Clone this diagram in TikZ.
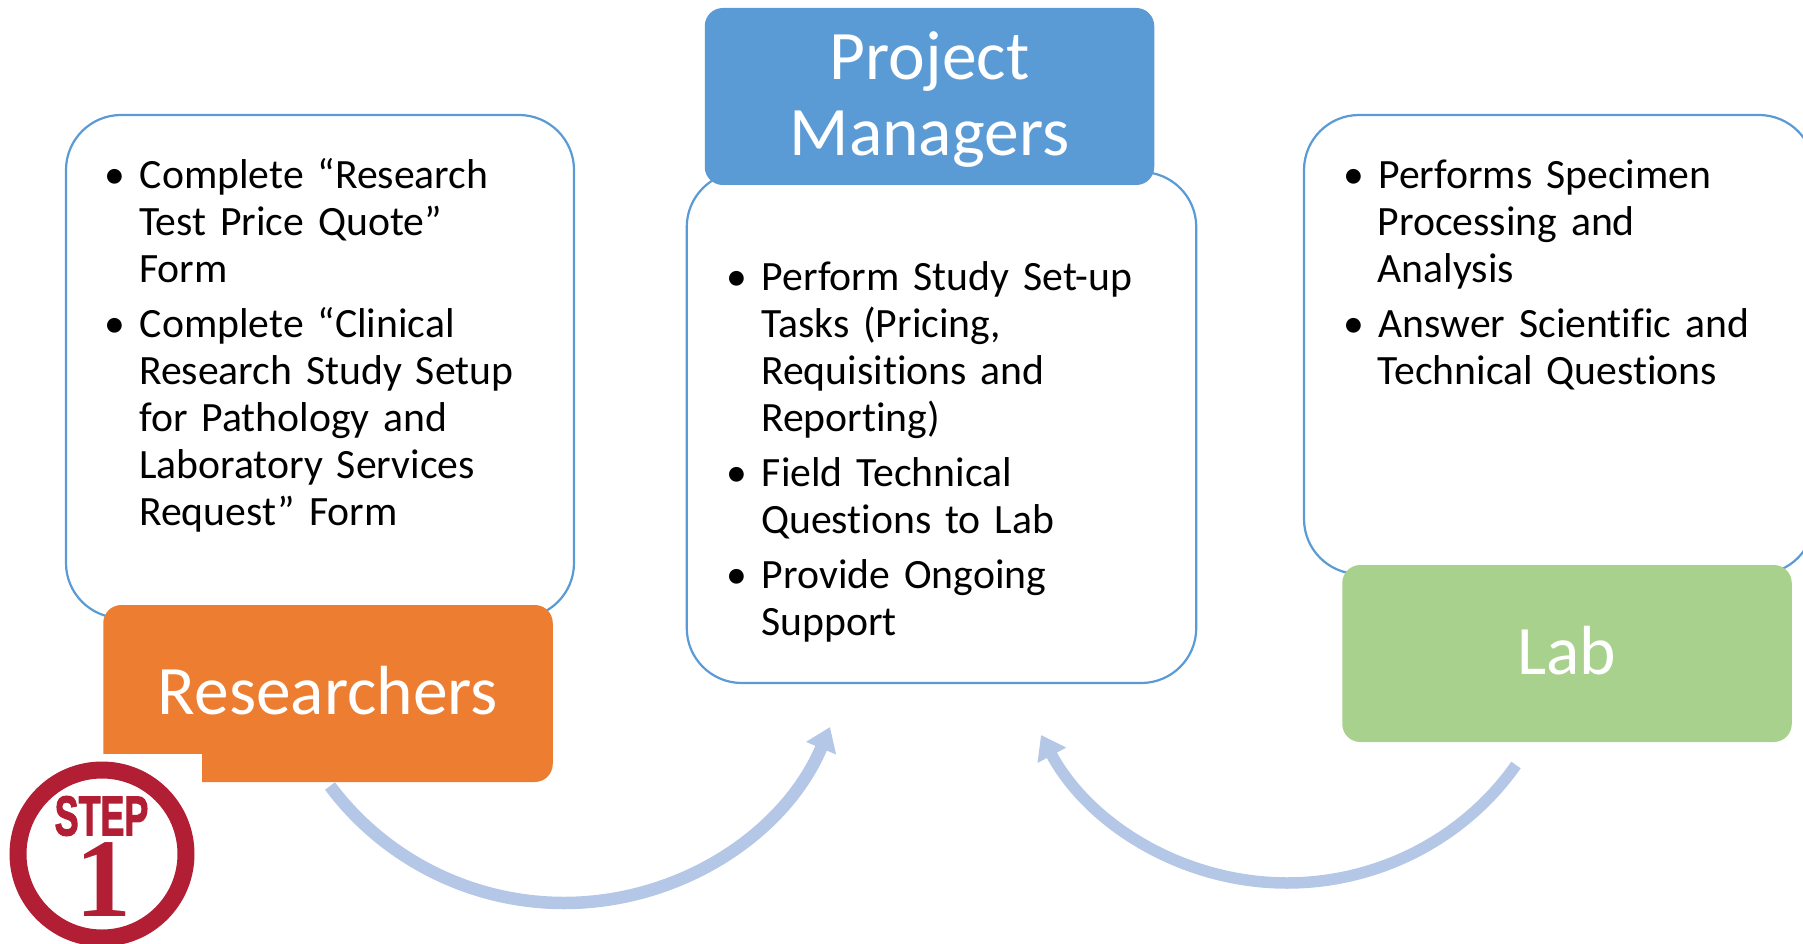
\documentclass[tikz,border=0pt]{standalone}
\usepackage{fontspec}
\setmainfont[Ligatures=NoCommon]{Carlito}
\newfontfamily\stepfont[UprightFont=* Bold,FakeBold=2.5]{Liberation Sans}
\newfontfamily\onefont[UprightFont=* Bold]{Liberation Serif}
\usetikzlibrary{arrows.meta}
\definecolor{boxline}{HTML}{5B9BD5}
\definecolor{orangebox}{HTML}{ED7D31}
\definecolor{bluebox}{HTML}{5B9BD5}
\definecolor{greenbox}{HTML}{A9D18E}
\definecolor{arrowblue}{HTML}{B4C7E7}
\definecolor{stepred}{HTML}{B21F35}
\newenvironment{blist}[1]{\begin{list}{\textbullet}{\setlength{\leftmargin}{34pt}\setlength{\labelwidth}{20pt}\setlength{\labelsep}{14.5pt}\setlength{\itemindent}{0pt}\setlength{\topsep}{0pt}\setlength{\partopsep}{0pt}\setlength{\parsep}{0pt}\setlength{\itemsep}{#1}\setlength{\rightmargin}{0pt}}}{\end{list}}
\tikzset{
  whitebox/.style={draw=boxline,line width=2.2pt,fill=white,rounded corners=55pt,inner sep=0pt},
  titlebox/.style={rounded corners=18pt,inner sep=0pt,text=white,align=center,minimum width=449.5pt,minimum height=177pt,font=\fontsize{69.5}{76}\selectfont},
  bodytext/.style={anchor=north west,inner sep=0pt,text width=440pt,font=\fontsize{41.7}{47}\selectfont},
  flow/.style={draw=arrowblue,line width=12.5pt,-{Triangle[length=23pt,width=31pt]}}
}
\begin{document}
\begin{tikzpicture}[x=1pt,y=-1pt]
\useasboundingbox (0,0) rectangle (1803,944);
\clip (0,0) rectangle (1803,944);
% white panels
\node[whitebox,minimum width=508pt,minimum height=503pt] (leftpanel) at (320,366.5) {};
\node[whitebox,minimum width=509.5pt,minimum height=511pt] (midpanel) at (941.5,427.5) {};
\node[whitebox,minimum width=510pt,minimum height=459pt] (rightpanel) at (1559,344.5) {};
% headers
\node[titlebox,fill=orangebox] (researchers) at (328,693.5) {\rule[-7pt]{0pt}{7pt}Researchers};
\node[titlebox,fill=bluebox] (managers) at (929.5,96.5) {\rule{0pt}{54pt}Project\\Managers};
\node[titlebox,fill=greenbox] (lab) at (1567,653.5) {\rule[-7pt]{0pt}{7pt}Lab};
% body text
\node[bodytext] (lefttext) at (105,141.5) {\begin{blist}{8pt}
\item Complete “Research\\Test Price Quote”\\Form
\item Complete “Clinical\\Research Study Setup\\for Pathology and\\Laboratory Services\\Request” Form
\end{blist}};
\node[bodytext] (midtext) at (727,243.5) {\begin{blist}{8pt}
\item Perform Study Set-up\\Tasks (Pricing,\\Requisitions and\\Reporting)
\item Field Technical\\Questions to Lab
\item Provide Ongoing\\Support
\end{blist}};
\node[bodytext] (righttext) at (1343.5,141.5) {\begin{blist}{8pt}
\item Performs Specimen\\Processing and\\Analysis
\item Answer Scientific and\\Technical Questions
\end{blist}};
% step badge
\fill[white] (103,754) rectangle (202,944);
\fill[white] (0,760) rectangle (202,944);
\node[circle,draw=stepred,line width=17pt,minimum size=168pt,inner sep=0pt] (badge) at (102,854) {};
\node[text=stepred,inner sep=0pt,font=\stepfont\fontsize{56}{56}\selectfont,xscale=.64] (steptext) at (101.5,816) {STEP};
\node[text=stepred,inner sep=0pt,font=\onefont\fontsize{112}{112}\selectfont] (onetext) at (103,880) {1};
% connectors
\coordinate (a1s) at (330,786);
\coordinate (a1m) at (564,903);
\coordinate (a1e) at (830,727);
\coordinate (a2s) at (1516,765);
\coordinate (a2m) at (1287,883);
\coordinate (a2e) at (1041,735);
\draw[flow] (a1s) .. controls (385,859.7) and (472,903) .. (a1m) .. controls (680,903) and (785,834) .. (a1e);
\draw[flow,line width=11.5pt] (a2s) .. controls (1464,839) and (1378,883) .. (a2m) .. controls (1184,883) and (1089.5,825.4) .. (a2e);
\end{tikzpicture}
\end{document}
